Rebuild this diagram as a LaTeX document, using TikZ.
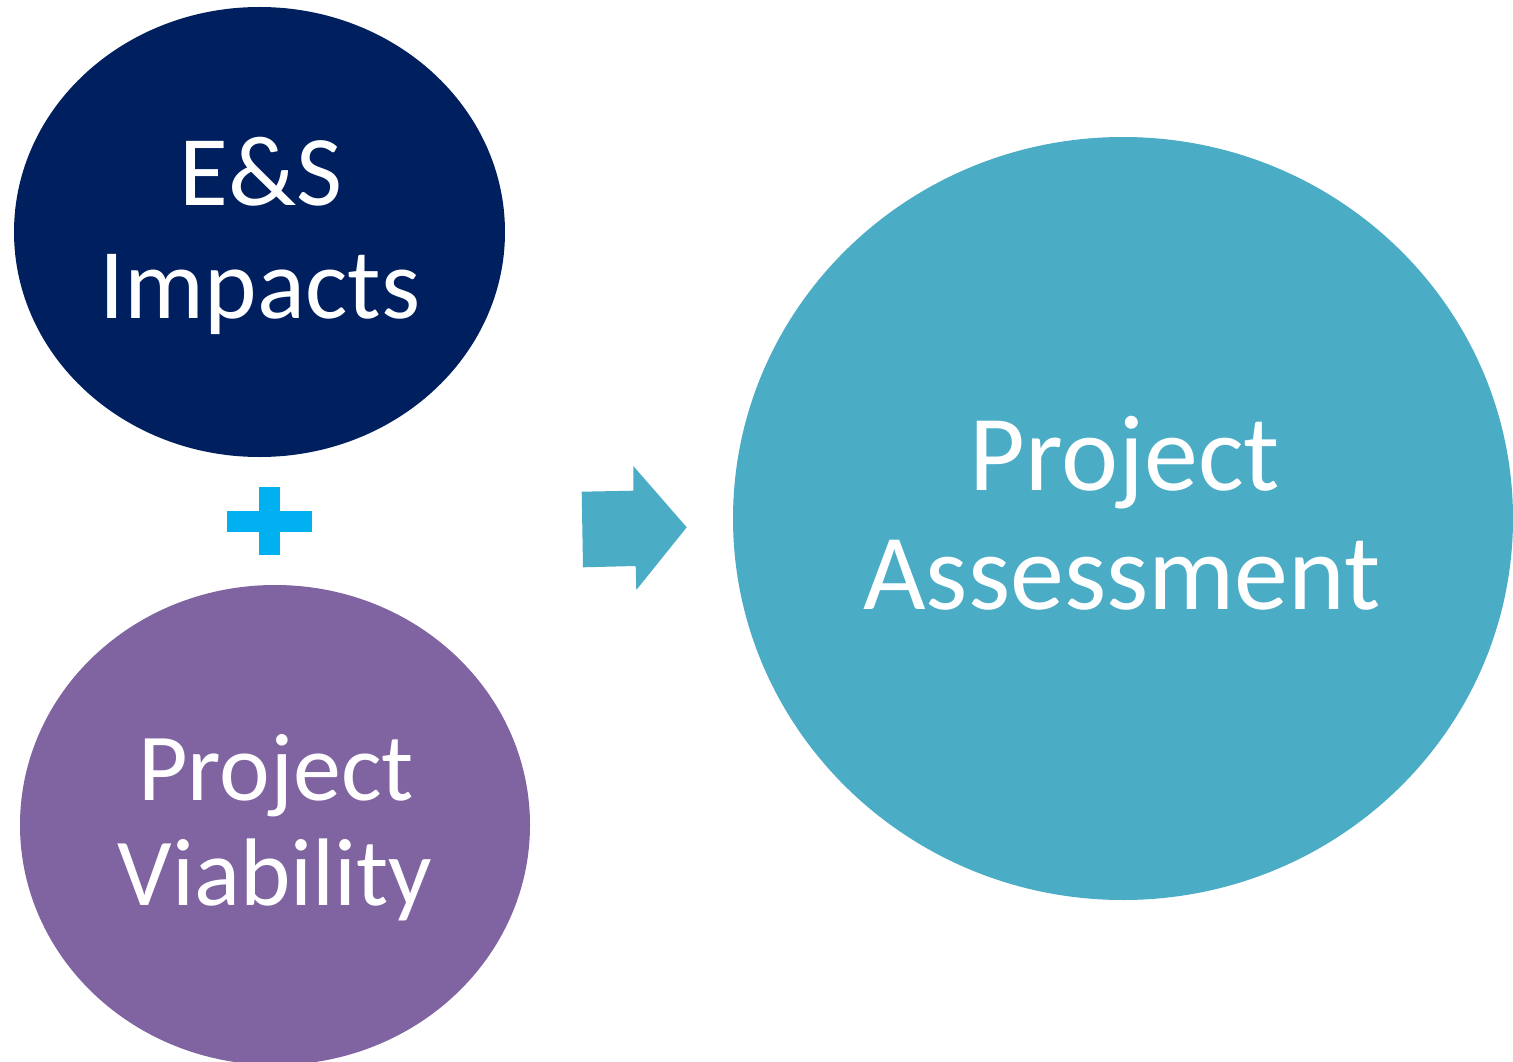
\documentclass[tikz,border=0pt]{standalone}
\usepackage{fontspec}
\setmainfont{Carlito}
\usetikzlibrary{shapes.geometric}
\definecolor{navy}{RGB}{0,31,95}
\definecolor{violet}{RGB}{128,100,162}
\definecolor{teal}{RGB}{75,172,198}
\definecolor{plusblue}{RGB}{0,176,240}
\begin{document}
\begin{tikzpicture}[x=1pt,y=-1pt,
  blob/.style={ellipse,inner sep=0pt,fill=#1,draw=none},
  lbl/.style={text=white,anchor=base,inner sep=0pt}]
\useasboundingbox (0,0) rectangle (1513,1062);
\clip (0,0) rectangle (1513,1062);
\fill[white] (0,0) rectangle (1513,1062);

% the three circles
\node[blob=navy,minimum width=491pt,minimum height=450pt] (es) at (259.5,232) {};
\node[blob=violet,minimum width=510pt,minimum height=480pt] (pv) at (275,825) {};
\node[blob=teal,minimum width=780pt,minimum height=763pt] (pa) at (1123,518.5) {};

% labels
\node[lbl,font=\fontsize{100}{100}\selectfont] (es1) at (261,205) {E\&S};
\node[lbl,font=\fontsize{100}{100}\selectfont] (es2) at (260,318) {Impacts};
\node[lbl,font=\fontsize{96}{96}\selectfont] (pv1) at (276,800) {Project};
\node[lbl,font=\fontsize{96}{96}\selectfont] (pv2) at (275,905) {Viability};
\node[lbl,font=\fontsize{108}{108}\selectfont] (pa1) at (1125,490) {Project};
\node[lbl,font=\fontsize{108}{108}\selectfont] (pa2) at (1122,609) {Assessment};

% plus sign
\coordinate (plus) at (269.5,521);
\fill[plusblue] (227.3,510.7) rectangle (311.7,532);
\fill[plusblue] (259,487.3) rectangle (280.3,555);

% block arrow
\coordinate (tip) at (686.7,527.3);
\fill[teal] (581.7,491.7) -- (633.3,490.7) -- (633.3,466) -- (tip)
  -- (636.3,590) -- (635.7,566) -- (583,567.3) -- cycle;
\end{tikzpicture}
\end{document}
